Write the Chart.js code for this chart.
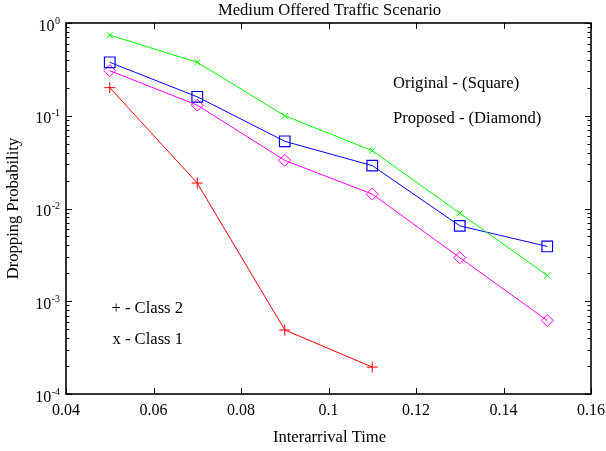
<!DOCTYPE html>
<html>
<head>
<meta charset="utf-8">
<script src="https://cdn.jsdelivr.net/npm/chart.js@4/dist/chart.umd.min.js"></script>
<style>
html,body{margin:0;padding:0;background:#fff;}
#wrap{width:606px;height:451px;position:relative;}
</style>
</head>
<body>
<div id="wrap"><canvas id="c" width="606" height="451"></canvas></div>
<script>
// ---- data ----
const interarrival = [0.05, 0.07, 0.09, 0.11, 0.13, 0.15];
const class1Original = [0.74, 0.377, 0.1, 0.042, 0.0089, 0.0019];      // green x
const class2Original = [0.377, 0.16, 0.053, 0.029, 0.0065, 0.0039];    // blue square
const class2Proposed = [0.306, 0.13, 0.033, 0.0143, 0.00295, 0.00062]; // magenta diamond
const class2Plus = [0.201, 0.0188, 0.00049, 0.000195];                 // red +
const xTicks = [0.04, 0.06, 0.08, 0.1, 0.12, 0.14, 0.16];
const xTickLabels = ['0.04', '0.06', '0.08', '0.1', '0.12', '0.14', '0.16'];
const yDecades = [1, 0.1, 0.01, 0.001, 0.0001];
const yExponents = ['0', '-1', '-2', '-3', '-4'];
const titleText = 'Medium Offered Traffic Scenario';
const xTitle = 'Interarrival Time';
const yTitle = 'Dropping Probability';
const notes = ['Original - (Square)', 'Proposed - (Diamond)', '+ - Class 2', 'x - Class 1'];

const pts = (ys) => ys.map((v, i) => ({x: interarrival[i], y: v}));
const SERIF = '"Liberation Serif", "Times New Roman", serif';
const TXT = '16.6px ' + SERIF;

const decor = {
  id: 'decor',
  afterDraw(chart) {
    const ctx = chart.ctx;
    const xs = chart.scales.x, ys = chart.scales.y;
    const a = chart.chartArea;
    ctx.save();
    ctx.strokeStyle = '#000';
    ctx.fillStyle = '#000';
    // frame
    ctx.lineWidth = 1.6;
    ctx.strokeRect(a.left, a.top, a.right - a.left, a.bottom - a.top);
    // ticks
    ctx.lineWidth = 1;
    ctx.beginPath();
    xTicks.forEach(v => {
      const px = Math.round(xs.getPixelForValue(v)) + 0.5;
      ctx.moveTo(px, a.bottom); ctx.lineTo(px, a.bottom - 6);
      ctx.moveTo(px, a.top); ctx.lineTo(px, a.top + 6);
    });
    yDecades.forEach((d, i) => {
      const py = Math.round(ys.getPixelForValue(d)) + 0.5;
      ctx.moveTo(a.left, py); ctx.lineTo(a.left + 6, py);
      ctx.moveTo(a.right, py); ctx.lineTo(a.right - 6, py);
      if (i < yDecades.length - 1) {
        for (let m = 2; m <= 9; m++) {
          const mp = Math.round(ys.getPixelForValue(d * m / 10)) + 0.5;
          ctx.moveTo(a.left, mp); ctx.lineTo(a.left + 3.5, mp);
          ctx.moveTo(a.right, mp); ctx.lineTo(a.right - 3.5, mp);
        }
      }
    });
    ctx.stroke();
    // x tick labels
    ctx.font = '16px ' + SERIF;
    ctx.textAlign = 'center';
    ctx.textBaseline = 'alphabetic';
    xTicks.forEach((v, i) => {
      ctx.fillText(xTickLabels[i], xs.getPixelForValue(v), a.bottom + 21);
    });
    // y tick labels with superscripts
    yDecades.forEach((d, i) => {
      const py = ys.getPixelForValue(d);
      const right = a.left - 6;
      ctx.font = '10px ' + SERIF;
      ctx.textAlign = 'right';
      const ew = ctx.measureText(yExponents[i]).width;
      ctx.fillText(yExponents[i], right, py + 0.5);
      ctx.font = '16px ' + SERIF;
      ctx.fillText('10', right - ew - 0.5, py + 7.5);
    });
    // title
    ctx.font = TXT;
    ctx.textAlign = 'center';
    const cx = (a.left + a.right) / 2 + 1;
    ctx.fillText(titleText, cx, 15);
    // x title
    ctx.fillText(xTitle, cx, 442);
    // y title
    ctx.save();
    ctx.translate(18, (a.top + a.bottom) / 2);
    ctx.rotate(-Math.PI / 2);
    ctx.fillText(yTitle, 0, 0);
    ctx.restore();
    // notes
    ctx.textAlign = 'left';
    ctx.fillText(notes[0], 393, 88);
    ctx.fillText(notes[1], 393, 123);
    ctx.textAlign = 'right';
    ctx.fillText(notes[2], 183, 313);
    ctx.fillText(notes[3], 183, 344);
    ctx.restore();
  }
};

new Chart(document.getElementById('c'), {
  type: 'line',
  data: {
    datasets: [
      {label: 'Class 1', data: pts(class1Original), borderColor: '#00ff00', backgroundColor: 'transparent',
       pointStyle: 'crossRot', pointRadius: 4.2, pointBorderWidth: 1, borderWidth: 1},
      {label: 'Original', data: pts(class2Original), borderColor: '#0000ff', backgroundColor: 'transparent',
       pointStyle: 'rect', pointRadius: 7.5, pointBorderWidth: 1.2, borderWidth: 1},
      {label: 'Proposed', data: pts(class2Proposed), borderColor: '#ff00ff', backgroundColor: 'transparent',
       pointStyle: 'rectRot', pointRadius: 6, pointBorderWidth: 1, borderWidth: 1},
      {label: 'Class 2', data: pts(class2Plus), borderColor: '#ff0000', backgroundColor: 'transparent',
       pointStyle: 'cross', pointRadius: 5.5, pointBorderWidth: 1, borderWidth: 1}
    ]
  },
  options: {
    responsive: false,
    animation: false,
    devicePixelRatio: 1,
    layout: {padding: {left: 0, right: 15, top: 23, bottom: 0}},
    elements: {line: {tension: 0, fill: false}},
    plugins: {legend: {display: false}, title: {display: false}, tooltip: {enabled: false}},
    scales: {
      x: {type: 'linear', min: 0.04, max: 0.16,
          grid: {display: false}, border: {display: false}, ticks: {display: false},
          afterFit: s => { s.height = 57; }},
      y: {type: 'logarithmic', min: 0.0001, max: 1,
          grid: {display: false}, border: {display: false}, ticks: {display: false},
          afterFit: s => { s.width = 66; }}
    }
  },
  plugins: [decor]
});
</script>
</body>
</html>
